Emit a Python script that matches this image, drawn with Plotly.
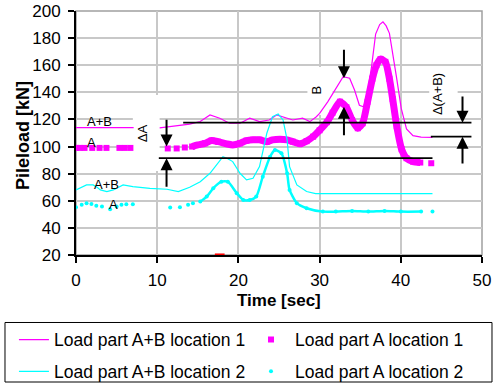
import plotly.graph_objects as go

# ---------------- data ----------------
# Load part A+B, location 1 (thin magenta line)
t_ab1 = [0, 7.1, None, 10.3, 12.8, 14.0, 15.3, 16.5, 17.7, 18.9, 20.2, 21.4, 22.6,
         23.8, 24.7, 25.4, 26.7, 27.9, 28.8, 29.6, 30.0, 31.0, 31.9, 32.9, 33.7,
         34.3, 34.9, 35.4, 35.8, 36.4, 36.9, 37.4, 37.8, 38.2, 38.6, 39.0, 39.45,
         40.06, 40.7, 41.5, 42.5, 43.9]
v_ab1 = [114, 114, None, 113.8, 115.8, 116.5, 118.5, 123.3, 120.9, 117.2, 117.2, 120.9, 118.4,
         119.6, 123.3, 122, 119.6, 120.9, 118.4, 122, 124.5, 133, 141.7, 151.6, 150.4,
         141.7, 130.5, 129.4, 136, 159, 183, 190, 192, 189, 183.5, 170, 152,
         128, 113, 108, 107, 106.8]

# Load part A, location 1 (magenta squares)
t_a1 = [0, 0.45, 1.05, 2.0, 2.9, 3.75, 5.35, 6.0, 6.7,
        11.3, 12.4, 13.4, 14.3, 15.0, 15.9, 16.7, 17.5, 18.6, 19.3, 20.2, 21.0, 21.8,
        22.6, 23.5, 24.2, 25.1, 26.0, 26.7, 27.6, 28.4, 29.2, 30.0, 30.9, 31.6, 32.5,
        33.3, 34.0, 34.7, 35.3, 35.9, 36.5, 37.0, 37.5, 38.1, 38.6, 39.0, 39.5, 40.1,
        40.7, 41.5, 42.4, 43.75]
v_a1 = [99, 99, 99, 99, 99, 99, 99, 99, 99,
        98.6, 98.6, 99.3, 100, 101.2, 102.4, 104.4, 103.6, 101.9, 101.2, 102.4, 104.4, 105,
        105, 103.6, 104.9, 105.4, 104.9, 103.6, 102, 104, 107.3, 112, 118, 125, 133.1,
        129, 119.6, 113.5, 117.2, 133, 150, 160, 164.5, 162.5, 150, 135, 115, 98,
        91.4, 88.9, 88.2, 87.7]

# Load part A+B, location 2 (thin cyan line)
t_ab2 = [0, 0.7, 1.3, 2.1, 2.6, 3.0, 3.8, 4.6, 5.8, 7.0, 9.1, 11.2, 12.6, 14.0, 15.3,
         16.5, 17.3, 18.1, 18.7, 19.3, 20.2, 21.0, 21.8, 22.6, 23.5, 24.2, 24.9, 25.5,
         26.0, 26.3, 27.2, 28.4, 29.5, 31.2, 43.9]
v_ab2 = [68, 70, 71.7, 71.7, 70, 68, 66.8, 68, 71.7, 70.5, 69.2, 68.5, 66.8, 70, 74.1,
         80.3, 86, 92.5, 91, 88.9, 80.3, 75.4, 76.6, 85.2, 109.8, 122, 124, 119.6,
         104.9, 85.2, 71.7, 66.8, 65.3, 65.3, 65.3]

# Load part A, location 2 (cyan dots)
t_a2 = [0, 0.7, 1.3, 1.9, 2.5, 3.2, 4.2, 5.0, 5.6, 6.2, 7.0,
        11.6, 12.8, 13.8, 14.4, 15.3, 16.1, 16.9, 17.9, 18.7, 19.8, 20.6, 21.4, 22.2,
        23.0, 23.9, 24.5, 25.3, 26.0, 26.3, 27.2, 28.4, 30.4, 32, 34, 36, 38, 40,
        42.5, 43.9]
v_a2 = [55.2, 57, 58.2, 57.7, 56.4, 55.7, 53.8, 55.7, 57, 57.5, 57.5,
        55, 55.2, 57, 58.2, 59.4, 63.1, 69.2, 74.1, 74.1, 65.6, 60.6, 60.6, 63.1,
        77.8, 92.5, 97.5, 95, 80.3, 68, 58.2, 54.5, 52, 52, 52.5, 52, 52.5, 52,
        52, 52]

# stray red trace sitting on the time axis
t_red = [17.1, 18.3]
v_red = [20.4, 20.4]

# reference levels of the sketch (load, kN)
level_upper = 117.6
level_lower = 91.4
level_end = 107.3

x_ticks = [0, 10, 20, 30, 40, 50]
y_ticks = [20, 40, 60, 80, 100, 120, 140, 160, 180, 200]

MAG = '#ff00ff'
CYA = '#00ffff'
FONT = 'Liberation Sans, Arial, sans-serif'

fig = go.Figure()

fig.add_trace(go.Scatter(x=t_ab1, y=v_ab1, mode='lines', name='Load part A+B location 1',
                         line=dict(color=MAG, width=1.2), connectgaps=False,
                         legend='legend', legendgroup='g1'))
fig.add_trace(go.Scatter(x=t_a1, y=v_a1, mode='markers', name='Load part A location 1',
                         marker=dict(symbol='square', size=6, color=MAG, line=dict(width=0)),
                         legend='legend2', legendgroup='g2'))
band1 = [(t, v) for t, v in zip(t_a1, v_a1) if 14.3 <= t <= 42.4]
fig.add_trace(go.Scatter(x=[p[0] for p in band1], y=[p[1] for p in band1], mode='lines',
                         line=dict(color=MAG, width=7, shape='spline', smoothing=0.6),
                         showlegend=False, hoverinfo='skip'))
fig.add_trace(go.Scatter(x=t_ab2, y=v_ab2, mode='lines', name='Load part A+B location 2',
                         line=dict(color=CYA, width=1.2), legend='legend', legendgroup='g3'))
fig.add_trace(go.Scatter(x=t_a2, y=v_a2, mode='markers', name='Load part A location 2',
                         marker=dict(symbol='circle', size=4, color=CYA, line=dict(width=0)),
                         legend='legend2', legendgroup='g4'))
band2 = [(t, v) for t, v in zip(t_a2, v_a2) if 15.3 <= t <= 42.5]
fig.add_trace(go.Scatter(x=[p[0] for p in band2], y=[p[1] for p in band2], mode='lines',
                         line=dict(color=CYA, width=2.5, shape='spline', smoothing=0.6),
                         showlegend=False, hoverinfo='skip'))
fig.add_trace(go.Scatter(x=t_red, y=v_red, mode='lines', line=dict(color='red', width=2),
                         showlegend=False, hoverinfo='skip', cliponaxis=False))

shapes = []
# plot-area border (grey, top/right)
shapes.append(dict(type='rect', xref='paper', yref='paper', x0=0, x1=1, y0=0, y1=1,
                   line=dict(color='#a0a0a0', width=1.5), layer='below'))
# legend frame around both legend columns
shapes.append(dict(type='rect', xref='paper', yref='paper', x0=-0.1749, x1=1.0246,
                   y0=-0.5205, y1=-0.2766, line=dict(color='black', width=1), layer='above'))
# white label boxes hiding the grid
for (x0, x1, y0, y1) in [(7.0, 10.3, 82, 138), (28.5, 31.6, 123.3, 158.7), (43.5, 47.0, 121, 158)]:
    shapes.append(dict(type='rect', xref='x', yref='y', x0=x0, x1=x1, y0=y0, y1=y1,
                       fillcolor='white', line=dict(width=0), layer='between'))
# black reference lines
for (x0, x1, y) in [(13.2, 48.7, level_upper), (10.2, 43.9, level_lower), (43.7, 48.7, level_end)]:
    shapes.append(dict(type='line', xref='x', yref='y', x0=x0, x1=x1, y0=y, y1=y,
                       line=dict(color='black', width=1.8), layer='above'))

annotations = []
# arrows: (x, tail_y, tip_y)
for (x, y_tail, y_tip) in [(11.15, 120.9, 100.0), (11.15, 69.2, level_lower),
                           (33.0, 172.5, 150.4), (33.0, 107.3, 129.4),
                           (47.6, 138.0, level_upper), (47.6, 86.4, level_end)]:
    annotations.append(dict(x=x, y=y_tip, ax=x, ay=y_tail, xref='x', yref='y', axref='x', ayref='y',
                            text='', showarrow=True, arrowhead=2, arrowsize=1.2, arrowwidth=2,
                            arrowcolor='black', standoff=0))
# text labels
for (x, y, txt, ang) in [(2.95, 118.6, 'A+B', 0), (1.9, 102.8, 'A', 0),
                         (3.77, 71.9, 'A+B', 0), (4.6, 57.2, 'A', 0),
                         (8.2, 109.5, 'ΔA', -90), (29.6, 141.7, 'B', -90),
                         (44.6, 138.8, 'Δ(A+B)', -90)]:
    annotations.append(dict(x=x, y=y, xref='x', yref='y', text=txt, showarrow=False,
                            textangle=ang, font=dict(family=FONT, size=13, color='black')))
# axis titles
annotations.append(dict(x=0.5, y=-0.186, xref='paper', yref='paper', text='<b>Time [sec]</b>',
                        showarrow=False, xanchor='center', yanchor='middle',
                        font=dict(family=FONT, size=17, color='black')))
annotations.append(dict(x=-0.1305, y=0.488, xref='paper', yref='paper', text='<b>Pileload [kN]</b>',
                        showarrow=False, xanchor='center', yanchor='middle', textangle=-90,
                        font=dict(family=FONT, size=18, color='black')))

leg_common = dict(orientation='v', xref='container', yref='container', xanchor='left', yanchor='top',
                  borderwidth=0, font=dict(family=FONT, size=17.5), bgcolor='rgba(0,0,0,0)',
                  tracegroupgap=6)
fig.update_layout(
    width=498, height=383,
    margin=dict(l=76, r=16, t=11, b=128, autoexpand=False),
    paper_bgcolor='white', plot_bgcolor='white',
    font=dict(family=FONT, color='black'),
    shapes=shapes, annotations=annotations,
    showlegend=True,
    legend=dict(x=0.028, y=0.160, itemwidth=30, **leg_common),
    legend2=dict(x=0.496, y=0.160, itemwidth=38, **leg_common),
)
fig.update_xaxes(range=[0, 50], tickvals=x_ticks, showgrid=True, gridcolor='#c8c8c8', gridwidth=1.5,
                 showline=True, linecolor='black', linewidth=2, ticks='outside', ticklen=6,
                 tickwidth=1.5, tickcolor='black', tickfont=dict(size=17), ticklabelstandoff=3,
                 zeroline=False, automargin=False)
fig.update_yaxes(range=[20, 200], tickvals=y_ticks, showgrid=True, gridcolor='#c8c8c8', gridwidth=1.5,
                 showline=True, linecolor='black', linewidth=2, ticks='outside', ticklen=6,
                 tickwidth=1.5, tickcolor='black', tickfont=dict(size=17), ticklabelstandoff=4,
                 zeroline=False, automargin=False)

fig.write_html('out.html', config={'displayModeBar': False},
               post_script="document.body.style.margin='0';document.body.style.padding='0';")
